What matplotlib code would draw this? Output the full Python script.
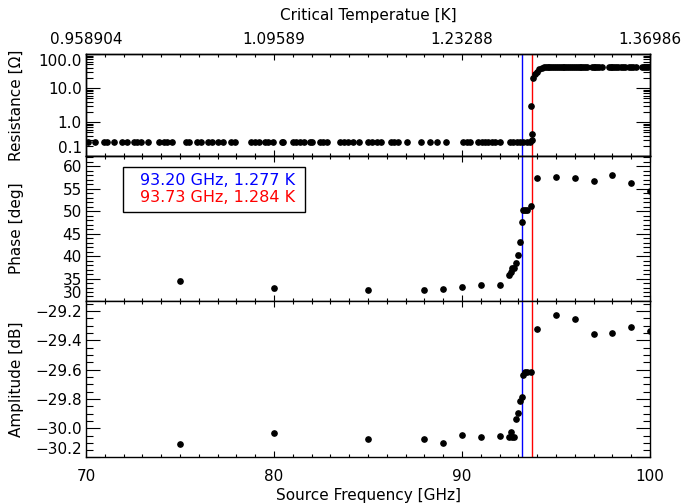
import matplotlib.pyplot as plt
from matplotlib.patches import Rectangle
from matplotlib.ticker import MultipleLocator, LogLocator, NullFormatter, FixedLocator, FixedFormatter

# resistance sweep (source frequency axis, ohm)
res_freq = [70.1, 70.5, 70.96, 71.1, 71.5, 71.9, 72.2, 72.55, 72.7, 72.9, 73.3, 73.9, 74.15,
            74.3, 74.6, 75.3, 75.5, 75.9, 76.1, 76.5, 76.7, 77.0, 77.3, 77.7, 77.9, 78.8, 79.0,
            79.2, 79.5, 79.7, 79.96, 80.4, 80.5, 81.0, 81.15, 81.4, 81.6, 81.9, 82.0, 82.45, 82.6,
            82.8, 83.5, 83.7, 83.95, 84.2, 84.5, 85.0, 85.2, 85.5, 85.7, 86.2, 86.4, 86.6, 87.05,
            87.8, 88.3, 88.65, 89.15, 90.07, 90.25, 90.4, 90.87, 91.05, 91.2, 91.4, 91.6, 91.75,
            92.0, 92.55, 92.7, 92.9, 93.1, 93.26, 93.44, 93.6,
            93.72, 93.74, 93.67, 93.80, 93.88, 94.0, 94.1, 94.25, 94.38,
            94.45, 94.55, 94.65, 94.75, 94.85, 94.95, 95.05, 95.15, 95.25, 95.35, 95.45, 95.55,
            95.65, 95.75, 95.85, 95.95, 96.05, 96.15, 96.25, 96.35, 96.45, 96.55, 96.65, 96.9,
            97.0, 97.1, 97.2, 97.3, 97.45, 97.8, 97.9, 98.0, 98.1, 98.2, 98.3, 98.45, 98.55,
            98.65, 98.9, 99.0, 99.1, 99.25, 99.6, 99.7, 99.8, 99.9]
res_ohm = [0.25, 0.25, 0.25, 0.25, 0.25, 0.25, 0.25, 0.25, 0.25, 0.25, 0.25, 0.25, 0.25,
           0.25, 0.25, 0.25, 0.25, 0.25, 0.25, 0.25, 0.25, 0.25, 0.25, 0.25, 0.25, 0.25, 0.25,
           0.25, 0.25, 0.25, 0.25, 0.25, 0.25, 0.25, 0.25, 0.25, 0.25, 0.25, 0.25, 0.25, 0.25,
           0.25, 0.25, 0.25, 0.25, 0.25, 0.25, 0.25, 0.25, 0.25, 0.25, 0.25, 0.25, 0.25, 0.25,
           0.25, 0.25, 0.25, 0.25, 0.25, 0.25, 0.25, 0.25, 0.25, 0.25, 0.25, 0.25, 0.25,
           0.25, 0.25, 0.25, 0.25, 0.25, 0.25, 0.25, 0.26,
           0.30, 0.45, 3.0, 19.5, 25.0, 30.0, 35.0, 38.0, 41.0,
           42, 42, 42, 42, 42, 42, 42, 42, 42, 42, 42, 42,
           42, 42, 42, 42, 42, 42, 42, 42, 42, 42, 42, 42,
           42, 42, 42, 42, 42, 42, 42, 42, 42, 42, 42, 42, 42,
           42, 42, 42, 42, 42, 42, 42, 42, 42]

# phase / amplitude sweep
freq = [75, 80, 85, 88, 89, 90, 91, 92, 92.5, 92.59, 92.68, 92.78, 92.89, 93.0, 93.09,
        93.19, 93.26, 93.36, 93.47, 93.69, 94, 95, 96, 97, 98, 99, 100]
phase = [34.5, 32.8, 32.5, 32.5, 32.7, 33.2, 33.6, 33.6, 35.8, 36.5, 37.3, 37.4, 38.4, 40.2,
         43.1, 47.6, 50.2, 50.2, 50.2, 51.1, 57.4, 57.6, 57.4, 56.7, 58.0, 56.3, 54.5]
phase_err = [0.3, 0.3, 0.3, 0.3, 0.3, 0.3, 0.3, 0.3, 0.4, 0.4, 0.4, 0.4, 0.4, 0.4,
             0.4, 0.4, 0.4, 0.4, 0.4, 0.4, 0.3, 0.3, 0.3, 0.3, 0.3, 0.3, 0.3]
amp = [-30.11, -30.035, -30.074, -30.072, -30.10, -30.044, -30.058, -30.055, -30.062, -30.026,
       -30.062, -30.062, -29.937, -29.898, -29.812, -29.789, -29.635, -29.618, -29.618, -29.618,
       -29.323, -29.229, -29.257, -29.357, -29.348, -29.307, -29.334]

f_blue, f_red = 93.20, 93.73
legend_lines = ["93.20 GHz, 1.277 K", "93.73 GHz, 1.284 K"]
freq_ticks = [70, 80, 90, 100]
temp_ticklabels = ["0.958904", "1.09589", "1.23288", "1.36986"]
res_ticks = [0.1, 1, 10, 100]
res_ticklabels = ["0.1", "1.0", "10.0", "100.0"]
phase_ticks = [30, 35, 40, 45, 50, 55, 60]
amp_ticks = [-30.2, -30.0, -29.8, -29.6, -29.4, -29.2]

plt.rcParams['font.family'] = ['DejaVu Sans']
plt.rcParams['font.size'] = 11
plt.rcParams['axes.linewidth'] = 1.0

fig = plt.figure(figsize=(6.83, 5.04), dpi=100)
W = 0.8258
ax1 = fig.add_axes([0.1259, 0.6905, W, 0.2024])
ax2 = fig.add_axes([0.1259, 0.4028, W, 0.2877])
ax3 = fig.add_axes([0.1259, 0.0923, W, 0.3105])

for ax in (ax1, ax2, ax3):
    ax.set_xlim(70, 100)
    ax.xaxis.set_major_locator(FixedLocator(freq_ticks))
    ax.xaxis.set_minor_locator(MultipleLocator(1))
    ax.tick_params(which='both', direction='in', top=True, right=True, width=0.8)
    ax.tick_params(axis='x', which='major', length=4)
    ax.tick_params(axis='x', which='minor', length=2)
    ax.tick_params(axis='y', which='major', length=10, pad=3)
    ax.tick_params(axis='y', which='minor', length=5)
    ax.axvline(f_blue, color='#0000ff', lw=1.0)
    ax.axvline(f_red, color='#ff0000', lw=1.0)
    ax.yaxis.set_label_coords(-0.11, 0.5)

# resistance
ax1.semilogy(res_freq, res_ohm, 'o', color='black', ms=3.8, zorder=3)
ax1.set_ylim(0.1, 100)
ax1.yaxis.set_major_locator(FixedLocator(res_ticks))
ax1.yaxis.set_major_formatter(FixedFormatter(res_ticklabels))
ax1.yaxis.set_minor_locator(LogLocator(base=10, subs=range(2, 10), numticks=10))
ax1.yaxis.set_minor_formatter(NullFormatter())
ax1.set_ylabel("Resistance [Ω]")
ax1.tick_params(axis='x', labelbottom=False, top=False)

axt = ax1.twiny()
axt.set_xlim(70, 100)
axt.xaxis.set_major_locator(FixedLocator(freq_ticks))
axt.xaxis.set_major_formatter(FixedFormatter(temp_ticklabels))
axt.xaxis.set_minor_locator(MultipleLocator(1))
axt.tick_params(which='both', direction='in', width=0.8)
axt.tick_params(which='major', length=4, pad=5)
axt.tick_params(which='minor', length=2)
axt.set_xlabel("Critical Temperatue [K]", labelpad=9)

# phase
ax2.errorbar(freq, phase, yerr=phase_err, fmt='o', color='black', ms=3.8,
             elinewidth=1.0, capsize=1.5, zorder=3)
ax2.set_ylim(30, 62.3)
ax2.yaxis.set_major_locator(FixedLocator(phase_ticks))
ax2.yaxis.set_minor_locator(MultipleLocator(1))
ax2.set_ylabel("Phase [deg]")
ax2.tick_params(axis='x', labelbottom=False)

ax2.add_patch(Rectangle((0.0656, 0.616), 0.3224, 0.306, transform=ax2.transAxes,
                        fc='white', ec='black', lw=1.0, zorder=4))
ax2.text(0.0957, 0.834, legend_lines[0], transform=ax2.transAxes,
         va='center', ha='left', color='#0000ff', fontsize=11.5, zorder=5)
ax2.text(0.0957, 0.712, legend_lines[1], transform=ax2.transAxes,
         va='center', ha='left', color='#ff0000', fontsize=11.5, zorder=5)

# amplitude
ax3.plot(freq, amp, 'o', color='black', ms=3.8, zorder=3)
ax3.set_ylim(-30.2, -29.132)
ax3.yaxis.set_major_locator(FixedLocator(amp_ticks))
ax3.yaxis.set_minor_locator(MultipleLocator(0.05))
ax3.yaxis.set_major_formatter(plt.FuncFormatter(lambda v, p: f"{v:.1f}".replace("-", "\u2212")))
ax3.set_ylabel("Amplitude [dB]")
ax3.set_xlabel("Source Frequency [GHz]", labelpad=3)
ax3.tick_params(axis='x', pad=8)

# lowest y label of each panel sits above its tick, as in the reference
for ax in (ax1, ax2, ax3):
    ax.get_yticklabels()[0].set_verticalalignment('bottom')
ax1.get_yticklabels()[-1].set_verticalalignment('top')

fig.savefig("out.png", dpi=100)
